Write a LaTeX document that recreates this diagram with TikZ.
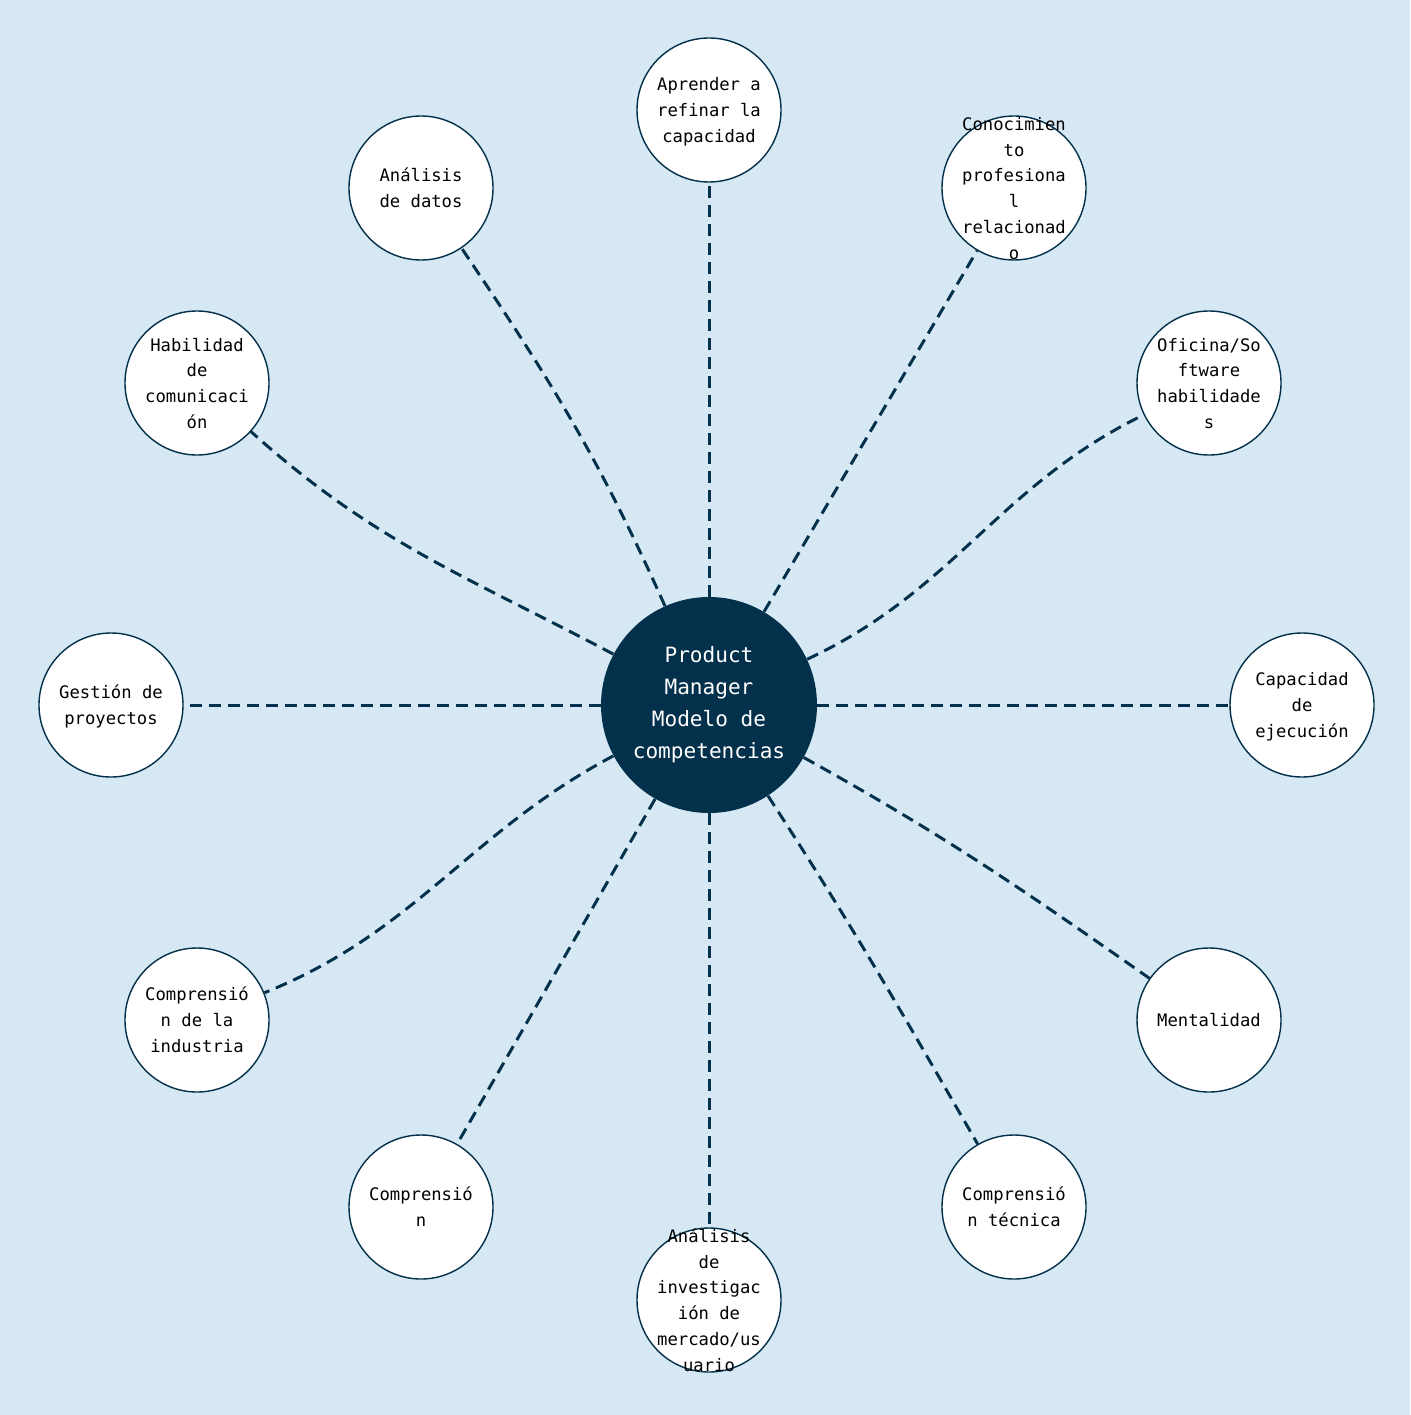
\documentclass[tikz,border=0pt]{standalone}
\usepackage{fontspec}
\usepackage{xcolor}
\usetikzlibrary{positioning,calc}
\newfontfamily\skillfont{DejaVu Sans Mono}
\definecolor{navy}{HTML}{03304A}
\definecolor{bgblue}{HTML}{D7E8F5}
\newcommand\cellstack[1]{\smash{\raisebox{-1.2mm}{\begin{tabular}{@{}c@{}}#1\end{tabular}}}}

\begin{document}
\begin{tikzpicture}[
  x=0.2mm, y=-0.2mm,
  hub/.style={circle, fill=navy, text=white, minimum size=43.2mm, inner sep=0pt, align=center,
    font=\skillfont\fontsize{12}{18.2}\selectfont},
  skill/.style={circle, draw=navy, line width=0.8pt, fill=white, minimum size=28.8mm, inner sep=0pt,
    font=\skillfont\fontsize{9.8}{14.7}\selectfont},
  link/.style={draw=navy, line width=1.7pt, dash pattern=on 2.4mm off 1.4mm}
]

  % Background
  \fill[bgblue] (0,0) rectangle (1410,1415);

  % Centre
  \node[hub] (pm) at (709,705) {Product\\Manager\\Modelo de\\competencias};

  % Competencies
  \node[skill] (aprender) at (709,110) {\cellstack{Aprender a\\refinar la\\capacidad}};
  \node[skill] (conoc) at (1014,188) {\cellstack{Conocimien\\to\\profesiona\\l\\relacionad\\o}};
  \node[skill] (oficina) at (1209,383) {\cellstack{Oficina/So\\ftware\\habilidade\\s}};
  \node[skill] (ejec) at (1302,705) {\cellstack{Capacidad\\de\\ejecución}};
  \node[skill] (mental) at (1209,1020) {\cellstack{Mentalidad}};
  \node[skill] (tecnica) at (1014,1207) {\cellstack{Comprensió\\n técnica}};
  \node[skill] (mercado) at (709,1300) {\cellstack{Análisis\\de\\investigac\\ión de\\mercado/us\\uario}};
  \node[skill] (compr) at (421,1207) {\cellstack{Comprensió\\n}};
  \node[skill] (industria) at (197,1020) {\cellstack{Comprensió\\n de la\\industria}};
  \node[skill] (gestion) at (111,705) {\cellstack{Gestión de\\proyectos}};
  \node[skill] (comunic) at (197,383) {\cellstack{Habilidad\\de\\comunicaci\\ón}};
  \node[skill] (datos) at (421,188) {\cellstack{Análisis\\de datos}};

  % Links
  \draw[link] (pm) -- (aprender);
  \draw[link] (pm) -- (conoc);
  \draw[link] (pm) to[out=25, in=206] (oficina);
  \draw[link] (pm) -- (ejec);
  \draw[link] (pm) to[out=-29, in=145] (mental);
  \draw[link] (pm) to[out=-57, in=120] (tecnica);
  \draw[link] (pm) -- (mercado);
  \draw[link] (pm) -- (compr);
  \draw[link] (pm) to[out=208, in=22] (industria);
  \draw[link] (pm) -- (gestion);
  \draw[link] (pm) to[out=152, in=-42] (comunic);
  \draw[link] (pm) to[out=114, in=-56] (datos);

\end{tikzpicture}
\end{document}
